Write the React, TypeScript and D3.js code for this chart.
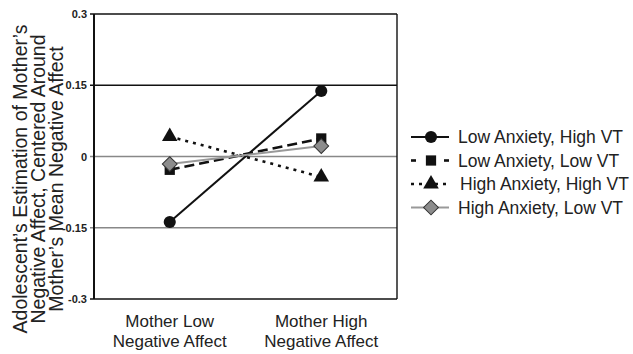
import * as d3 from "d3";
import { useEffect, useRef } from "react";

const categories = ["Mother Low|Negative Affect", "Mother High|Negative Affect"];
const yTicks = [0.3, 0.15, 0, -0.15, -0.3];
const yTickLabels = ["0.3", "0.15", "0", "-0.15", "-0.3"];

const lowAnxHighVT = [-0.138, 0.138];
const lowAnxLowVT = [-0.028, 0.038];
const highAnxHighVT = [0.042, -0.043];
const highAnxLowVT = [-0.016, 0.022];

const seriesNames = [
  "Low Anxiety, High VT",
  "Low Anxiety, Low VT",
  "High Anxiety, High VT",
  "High Anxiety, Low VT",
];

const yTitle = [
  "Adolescent\u2019s Estimation of Mother\u2019s",
  "Negative Affect, Centered Around",
  "Mother\u2019s Mean Negative Affect",
];

const W = 633;
const H = 354;
const plot = { x1: 94, x2: 397, y1: 14, y2: 299 };
const font = "'Liberation Sans', Arial, sans-serif";

const styles = [
  { stroke: "#111", width: 2, dash: null, sym: d3.symbolCircle, size: 115, fill: "#111", rot: 0 },
  { stroke: "#111", width: 2.6, dash: "10,5", sym: d3.symbolSquare, size: 105, fill: "#111", rot: 0 },
  { stroke: "#111", width: 2.6, dash: "3,5", sym: d3.symbolTriangle, size: 105, fill: "#111", rot: 0 },
  { stroke: "#999", width: 2, dash: null, sym: d3.symbolSquare, size: 110, fill: "#8c8c8c", rot: 45 },
];

const draw = (svgEl) => {
  const svg = d3.select(svgEl);
  svg.selectAll("*").remove();

  const x = d3.scaleBand().domain(categories).range([plot.x1, plot.x2]);
  const cx = (c) => x(c) + x.bandwidth() / 2;
  const y = d3.scaleLinear().domain([-0.3, 0.3]).range([plot.y2, plot.y1]);

  // gridlines
  const gridColor = { "0.3": "#111", "0.15": "#111", "0": "#888", "-0.15": "#888", "-0.3": "#111" };
  yTicks.forEach((t, i) => {
    svg.append("line")
      .attr("x1", plot.x1 - 4).attr("x2", plot.x2)
      .attr("y1", y(t)).attr("y2", y(t))
      .attr("stroke", gridColor[yTickLabels[i]])
      .attr("stroke-width", 1.4);
    svg.append("text")
      .attr("x", 87).attr("y", y(t) + 4)
      .attr("text-anchor", "end")
      .attr("font-family", "'Liberation Sans Narrow', 'Arial Narrow', " + font)
      .attr("font-weight", "bold")
      .attr("font-size", 11)
      .attr("fill", "#222")
      .text(yTickLabels[i]);
  });
  svg.append("line").attr("x1", plot.x1).attr("x2", plot.x1).attr("y1", plot.y1).attr("y2", plot.y2)
    .attr("stroke", "#111").attr("stroke-width", 2);
  svg.append("line").attr("x1", plot.x2).attr("x2", plot.x2).attr("y1", plot.y1).attr("y2", plot.y2)
    .attr("stroke", "#111").attr("stroke-width", 1.4);

  // category labels
  categories.forEach((c) => {
    const t = svg.append("text")
      .attr("text-anchor", "middle")
      .attr("font-family", font)
      .attr("font-size", 17)
      .attr("fill", "#222");
    c.split("|").forEach((s, k) => {
      t.append("tspan").attr("x", cx(c)).attr("y", 327 + k * 20).text(s);
    });
  });

  // y title
  yTitle.forEach((s, k) => {
    svg.append("text")
      .attr("transform", `translate(${27 + k * 18},179) rotate(-90)`)
      .attr("text-anchor", "middle")
      .attr("font-family", font)
      .attr("font-size", 19.5)
      .attr("fill", "#222")
      .text(s);
  });

  const data = [lowAnxHighVT, lowAnxLowVT, highAnxHighVT, highAnxLowVT];
  const line = d3.line().x((d, i) => cx(categories[i])).y((d) => y(d));

  data.forEach((vals, si) => {
    const st = styles[si];
    svg.append("path")
      .attr("d", line(vals))
      .attr("fill", "none")
      .attr("stroke", st.stroke)
      .attr("stroke-width", st.width)
      .attr("stroke-dasharray", st.dash);
    vals.forEach((v, i) => {
      svg.append("path")
        .attr("d", d3.symbol().type(st.sym).size(st.size)())
        .attr("transform", `translate(${cx(categories[i])},${y(v)}) rotate(${st.rot})`)
        .attr("fill", st.fill)
        .attr("stroke", si == 3 ? "#333" : "none")
        .attr("stroke-width", 1);
    });
  });

  // legend
  seriesNames.forEach((name, si) => {
    const st = styles[si];
    const ly = 137 + si * 23.5;
    const g = svg.append("g");
    if (si == 1) {
      g.append("line").attr("x1", 411).attr("x2", 416).attr("y1", ly).attr("y2", ly)
        .attr("stroke", st.stroke).attr("stroke-width", st.width);
      g.append("line").attr("x1", 444).attr("x2", 449).attr("y1", ly).attr("y2", ly)
        .attr("stroke", st.stroke).attr("stroke-width", st.width);
    } else {
      g.append("line").attr("x1", 411).attr("x2", 449).attr("y1", ly).attr("y2", ly)
        .attr("stroke", st.stroke).attr("stroke-width", st.width)
        .attr("stroke-dasharray", st.dash);
    }
    g.append("path")
      .attr("d", d3.symbol().type(st.sym).size(st.size)())
      .attr("transform", `translate(431,${ly}) rotate(${st.rot})`)
      .attr("fill", st.fill)
      .attr("stroke", si == 3 ? "#333" : "none");
    g.append("text")
      .attr("x", si == 2 ? 460 : 458).attr("y", ly + 6)
      .attr("font-family", font)
      .attr("font-size", 17.5)
      .attr("fill", "#222")
      .text(name);
  });
};

export default function App() {
  const ref = useRef(null);
  useEffect(() => {
    draw(ref.current);
  }, []);
  return (
    <svg ref={ref} width={W} height={H}
      style={{ position: "absolute", left: 0, top: 0, background: "#fff" }} />
  );
}
